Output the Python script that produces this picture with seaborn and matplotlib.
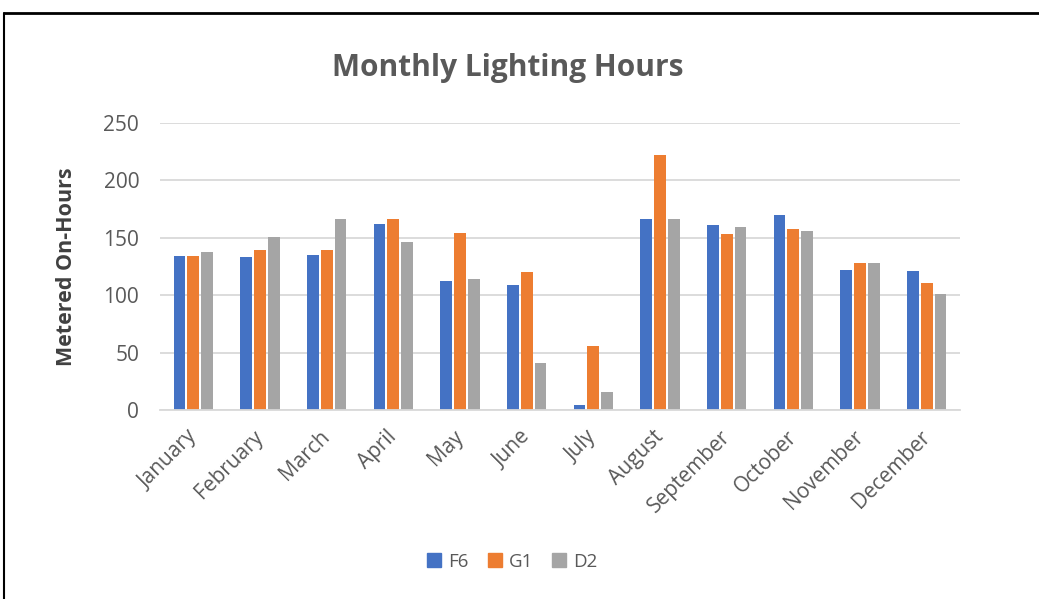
import pandas as pd
import numpy as np
import matplotlib.pyplot as plt
import matplotlib.transforms as mtransforms
import seaborn as sns
from matplotlib.lines import Line2D

months = ['January', 'February', 'March', 'April', 'May', 'June',
          'July', 'August', 'September', 'October', 'November', 'December']
f6 = [134, 133, 135, 162, 112, 109, 4, 166, 161, 170, 122, 121]
g1 = [134, 139, 139, 166, 154, 120, 56, 222, 153, 158, 128, 111]
d2 = [138, 151, 166, 146, 114, 41, 16, 166, 159, 156, 128, 101]
series = ['F6', 'G1', 'D2']
colors = ['#4472C4', '#ED7D31', '#A5A5A5']

df = pd.DataFrame({'month': months, 'F6': f6, 'G1': g1, 'D2': d2})
df_long = df.melt('month', var_name='meter', value_name='hours')

sns.set_style('white')
plt.rcParams['font.family'] = ['Open Sans', 'DejaVu Sans']

fig = plt.figure(figsize=(10.39, 5.99), dpi=100)
ax = fig.add_axes([160/1039, 1 - 410/599, 800/1039, 287/599])

sns.barplot(data=df_long, x='month', y='hours', hue='meter', hue_order=series,
            palette=colors, width=0.62, gap=0.15, ax=ax, legend=False,
            saturation=1, edgecolor='none')

ax.set_ylim(0, 250)
ax.set_yticks(range(0, 251, 50))
ax.set_xlim(-0.5, 11.5)
ax.yaxis.grid(True, color='#D9D9D9', linewidth=1.3)
ax.set_axisbelow(True)
for s in ['top', 'right', 'left']:
    ax.spines[s].set_visible(False)
ax.spines['bottom'].set_color('#D9D9D9')
ax.spines['bottom'].set_linewidth(1.3)
ax.tick_params(axis='both', length=0, colors='#595959')
ax.tick_params(axis='y', pad=15, labelsize=15)
ax.tick_params(axis='x', pad=12, labelsize=15)
shift = mtransforms.ScaledTranslation(-7/100, 0, fig.dpi_scale_trans)
for lab in ax.get_xticklabels():
    lab.set_rotation(45)
    lab.set_ha('right')
    lab.set_rotation_mode('anchor')
    lab.set_transform(lab.get_transform() + shift)
ax.set_xlabel('')
ax.set_ylabel('Metered On-Hours', fontsize=15.5, fontweight='bold', color='#404040')
ax.yaxis.set_label_coords(-(160 - 77) / 800, 0.5)

fig.text(508/1039, 1 - 68/599, 'Monthly Lighting Hours', ha='center', va='center',
         fontsize=21.5, fontweight='bold', color='#595959')

handles = [Line2D([0], [0], marker='s', linestyle='none', markersize=10,
                  markerfacecolor=c, markeredgecolor=c) for c in colors]
fig.legend(handles, series, loc='center', bbox_to_anchor=(512/1039, 1 - 562/599),
           ncol=3, frameon=False, fontsize=13.5, labelcolor='#595959',
           handlelength=0.8, handletextpad=0.35, columnspacing=1.0)

# outer frame (top and left edges visible)
fig.add_artist(Line2D([4/1039, 4/1039], [0, 1 - 13/599], color='black', linewidth=1.5,
                      transform=fig.transFigure))
fig.add_artist(Line2D([4/1039, 1], [1 - 13/599, 1 - 13/599], color='black', linewidth=2,
                      transform=fig.transFigure))

fig.savefig('out.png', dpi=100)
